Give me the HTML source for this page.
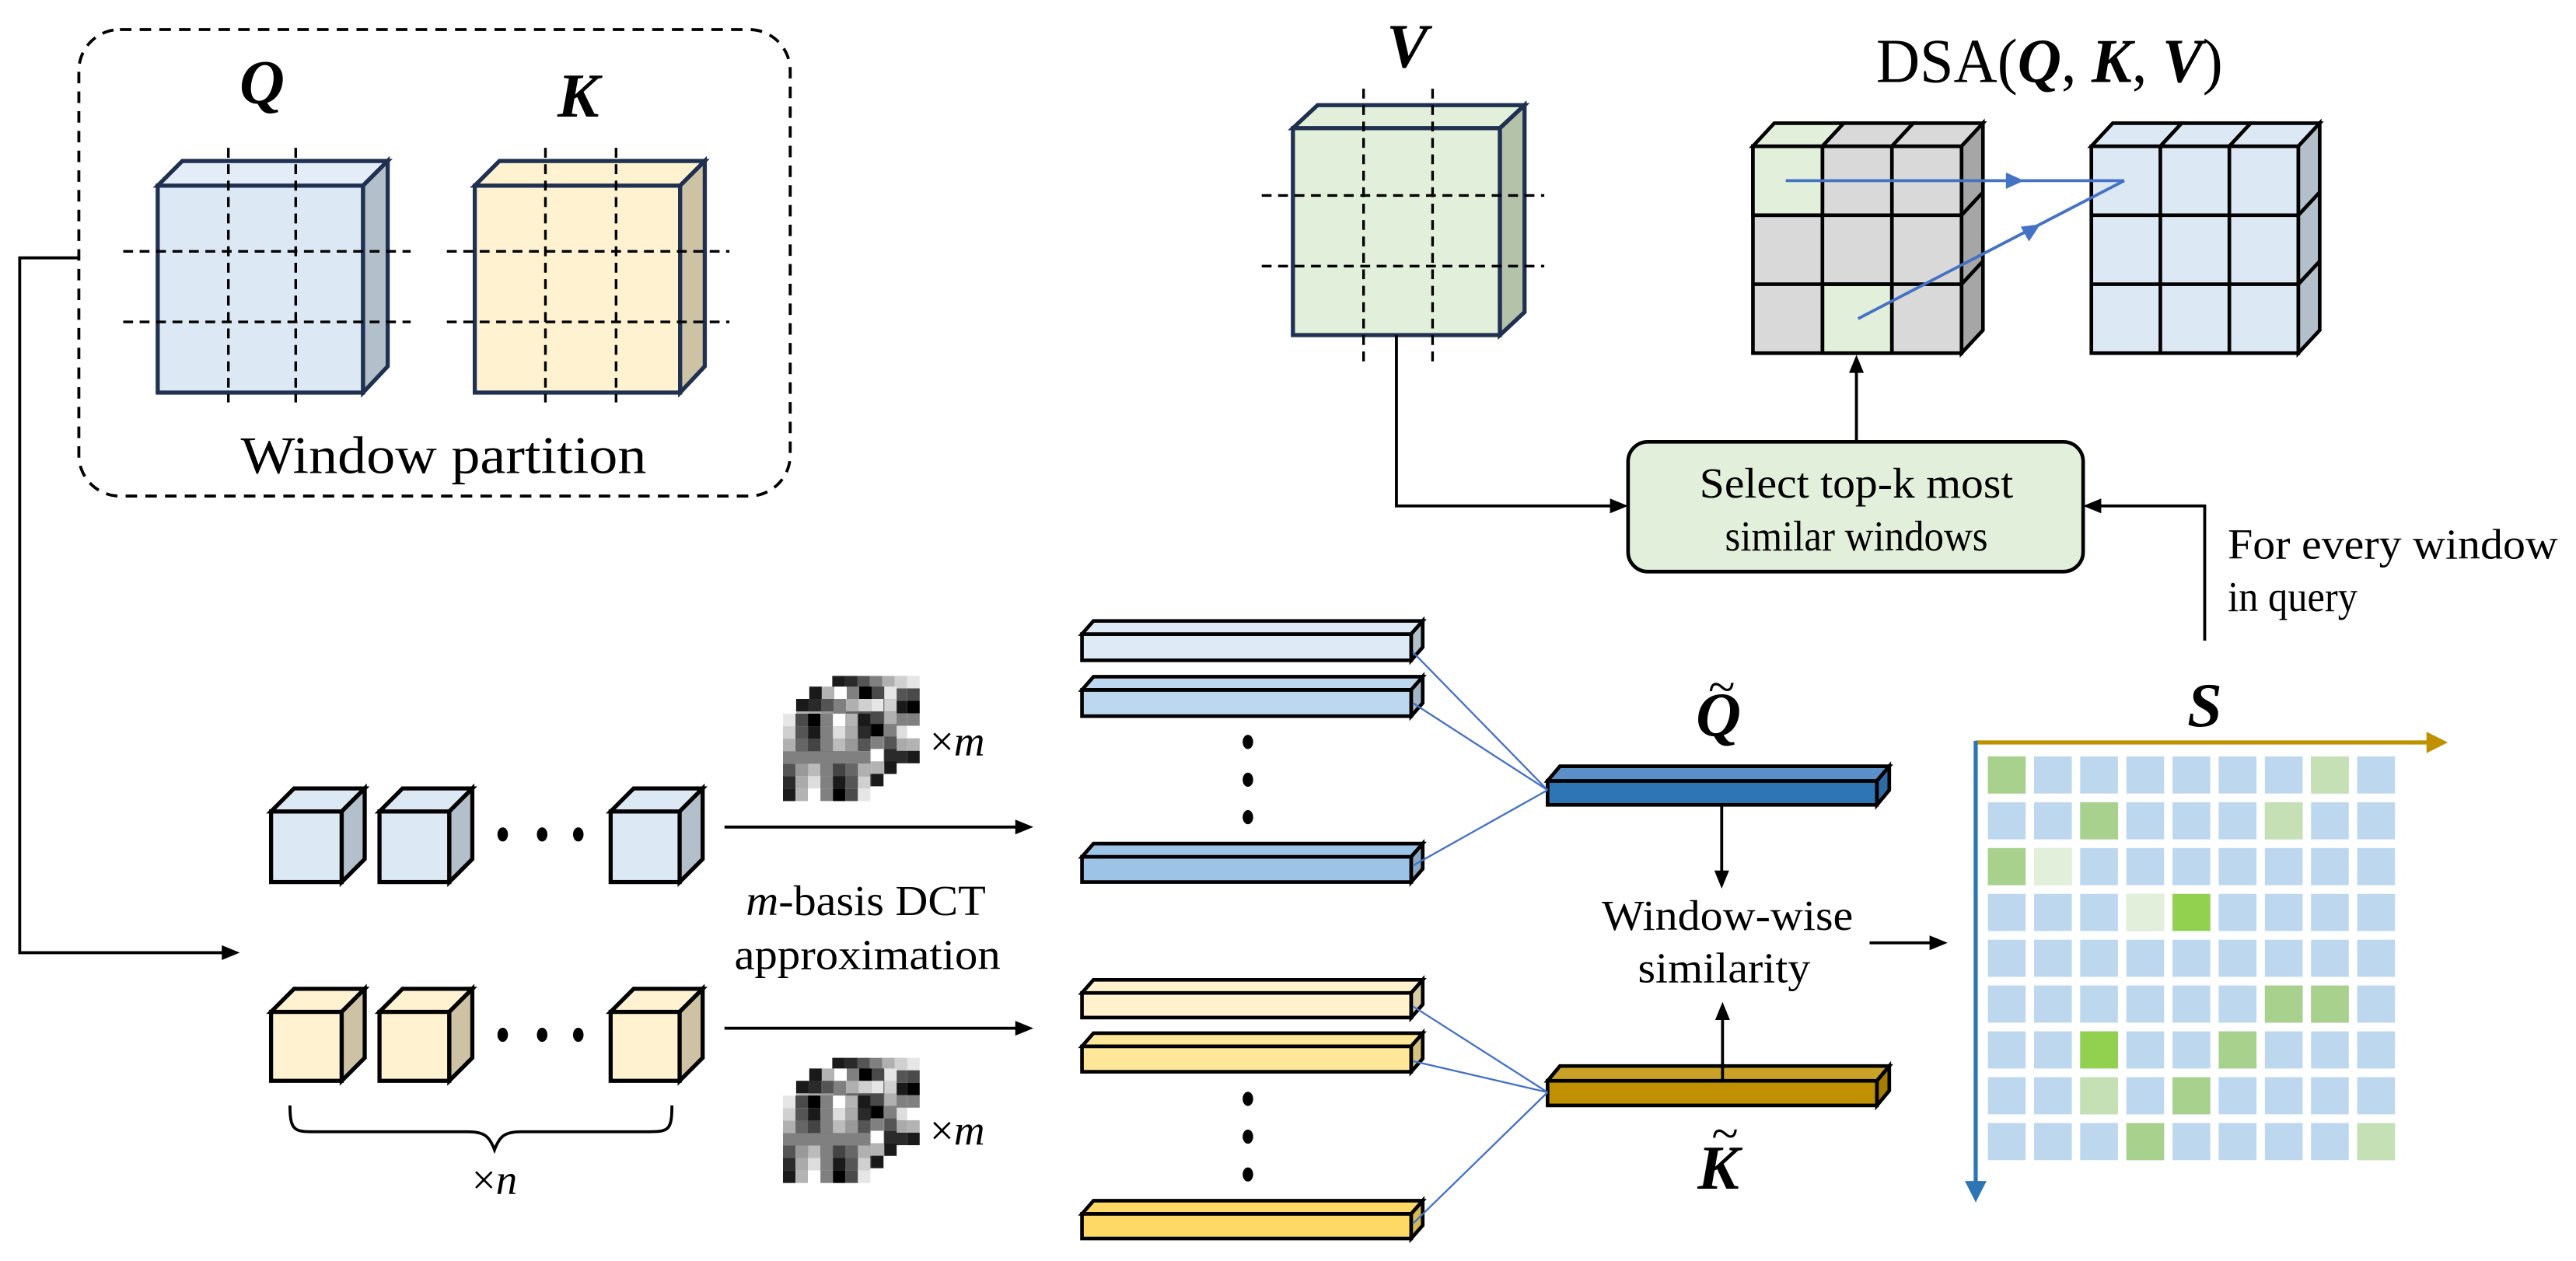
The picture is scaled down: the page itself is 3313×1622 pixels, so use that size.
<!DOCTYPE html>
<html><head><meta charset="utf-8"><style>html,body{margin:0;padding:0;background:#fff}svg{display:block}</style></head><body>
<svg width="3313" height="1622" viewBox="0 0 1568 767.7" preserveAspectRatio="none" xmlns="http://www.w3.org/2000/svg" font-family="'Liberation Serif', serif">
<defs>
<pattern id="cells" x="1210" y="460.5" width="28.1" height="27.9" patternUnits="userSpaceOnUse"><rect width="23" height="22.6" fill="#bdd7ee"/></pattern>
<g id="dct">
<rect x="0" y="0" width="7.6" height="7.6" fill="#e6e6e6"/><rect x="7.6" y="0" width="7.6" height="7.6" fill="#4a4a4a"/><rect x="15.2" y="0" width="7.6" height="7.6" fill="#000"/><rect x="22.8" y="0" width="7.6" height="7.6" fill="#808080"/><rect x="30.4" y="0" width="7.6" height="7.6" fill="#fff"/><rect x="38" y="0" width="7.6" height="7.6" fill="#b3b3b3"/><rect x="45.6" y="0" width="7.6" height="7.6" fill="#1a1a1a"/>
<rect x="0" y="7.6" width="7.6" height="7.6" fill="#d0d0d0"/><rect x="7.6" y="7.6" width="7.6" height="7.6" fill="#555"/><rect x="15.2" y="7.6" width="7.6" height="7.6" fill="#1a1a1a"/><rect x="22.8" y="7.6" width="7.6" height="7.6" fill="#808080"/><rect x="30.4" y="7.6" width="7.6" height="7.6" fill="#ddd"/><rect x="38" y="7.6" width="7.6" height="7.6" fill="#aaa"/><rect x="45.6" y="7.6" width="7.6" height="7.6" fill="#2a2a2a"/>
<rect x="0" y="15.2" width="7.6" height="7.6" fill="#b0b0b0"/><rect x="7.6" y="15.2" width="7.6" height="7.6" fill="#666"/><rect x="15.2" y="15.2" width="7.6" height="7.6" fill="#444"/><rect x="22.8" y="15.2" width="7.6" height="7.6" fill="#808080"/><rect x="30.4" y="15.2" width="7.6" height="7.6" fill="#bbb"/><rect x="38" y="15.2" width="7.6" height="7.6" fill="#999"/><rect x="45.6" y="15.2" width="7.6" height="7.6" fill="#555"/>
<rect x="0" y="22.8" width="53.2" height="7.6" fill="#808080"/>
<rect x="0" y="30.4" width="7.6" height="7.6" fill="#555"/><rect x="7.6" y="30.4" width="7.6" height="7.6" fill="#999"/><rect x="15.2" y="30.4" width="7.6" height="7.6" fill="#bbb"/><rect x="22.8" y="30.4" width="7.6" height="7.6" fill="#808080"/><rect x="30.4" y="30.4" width="7.6" height="7.6" fill="#444"/><rect x="38" y="30.4" width="7.6" height="7.6" fill="#666"/><rect x="45.6" y="30.4" width="7.6" height="7.6" fill="#b0b0b0"/>
<rect x="0" y="38" width="7.6" height="7.6" fill="#2a2a2a"/><rect x="7.6" y="38" width="7.6" height="7.6" fill="#aaa"/><rect x="15.2" y="38" width="7.6" height="7.6" fill="#ddd"/><rect x="22.8" y="38" width="7.6" height="7.6" fill="#808080"/><rect x="30.4" y="38" width="7.6" height="7.6" fill="#1a1a1a"/><rect x="38" y="38" width="7.6" height="7.6" fill="#555"/><rect x="45.6" y="38" width="7.6" height="7.6" fill="#d0d0d0"/>
<rect x="0" y="45.6" width="7.6" height="7.6" fill="#1a1a1a"/><rect x="7.6" y="45.6" width="7.6" height="7.6" fill="#b3b3b3"/><rect x="15.2" y="45.6" width="7.6" height="7.6" fill="#fff"/><rect x="22.8" y="45.6" width="7.6" height="7.6" fill="#808080"/><rect x="30.4" y="45.6" width="7.6" height="7.6" fill="#000"/><rect x="38" y="45.6" width="7.6" height="7.6" fill="#4a4a4a"/><rect x="45.6" y="45.6" width="7.6" height="7.6" fill="#e6e6e6"/>
</g>
<g id="dctstack">
<use href="#dct" transform="translate(30,-23) rotate(90 26.6 26.6)"/>
<use href="#dct" transform="translate(16,-16.5) scale(-1,1) translate(-53.2,0)"/>
<use href="#dct" transform="translate(8,-9) rotate(-90 26.6 26.6)"/>
<use href="#dct"/>
</g>
</defs>

<!-- dashed box -->
<rect x="48" y="18" width="433" height="284" rx="25" fill="none" stroke="#000" stroke-width="1.8" stroke-dasharray="7 5"/>
<text x="159.5" y="63" font-size="38" font-weight="bold" font-style="italic" text-anchor="middle">Q</text>
<text x="352" y="71" font-size="38" font-weight="bold" font-style="italic" text-anchor="middle">K</text>

<g stroke="#1f3050" stroke-width="2.5" stroke-linejoin="miter">
<rect x="96" y="113" width="125" height="126" fill="#dde8f5"/>
<polygon points="96,113 111,98 236,98 221,113" fill="#e3ecf7"/>
<polygon points="221,113 236,98 236,223 221,239" fill="#b3bfca"/>
<rect x="289" y="113" width="125" height="126" fill="#fff2d0"/>
<polygon points="289,113 304,98 429,98 414,113" fill="#fff2d0"/>
<polygon points="414,113 429,98 429,223 414,239" fill="#cdc2a4"/>
<rect x="787" y="78" width="126" height="126" fill="#e2efda"/>
<polygon points="787,78 802,64 928,64 913,78" fill="#e2efda"/>
<polygon points="913,78 928,64 928,190 913,204" fill="#b5c2aa"/>
</g>
<g stroke="#000" stroke-width="1.6" stroke-dasharray="6 4" fill="none">
<line x1="139" y1="90" x2="139" y2="245"/><line x1="180" y1="90" x2="180" y2="245"/>
<line x1="332" y1="90" x2="332" y2="245"/><line x1="375" y1="90" x2="375" y2="245"/>
<line x1="75" y1="153" x2="250" y2="153"/><line x1="75" y1="196" x2="250" y2="196"/>
<line x1="272" y1="153" x2="444" y2="153"/><line x1="272" y1="196" x2="444" y2="196"/>
<line x1="830" y1="54" x2="830" y2="222"/><line x1="872" y1="54" x2="872" y2="222"/>
<line x1="768" y1="119" x2="940" y2="119"/><line x1="768" y1="162" x2="940" y2="162"/>
</g>
<text x="270" y="288" font-size="32" text-anchor="middle" textLength="247" lengthAdjust="spacingAndGlyphs">Window partition</text>

<!-- left connector -->
<polyline points="48,157 12,157 12,580 136,580" fill="none" stroke="#000" stroke-width="1.8"/>
<polygon points="146,580 135,575.5 135,584.5" fill="#000"/>

<!-- V and DSA -->
<text x="856.6" y="41" font-size="38" font-weight="bold" font-style="italic" text-anchor="middle">V</text>
<text x="1142" y="50" font-size="38" textLength="211" lengthAdjust="spacingAndGlyphs">DSA(<tspan font-weight="bold" font-style="italic">Q</tspan>, <tspan font-weight="bold" font-style="italic">K</tspan>, <tspan font-weight="bold" font-style="italic">V</tspan>)</text>

<!-- gray cube -->
<g stroke="#000" stroke-width="2.2">
<rect x="1067" y="89" width="127" height="126" fill="#d9d9d9"/>
<rect x="1067" y="89" width="42.3" height="42" fill="#e2efda"/>
<rect x="1109.3" y="173" width="42.3" height="42" fill="#e2efda"/>
<line x1="1109.3" y1="89" x2="1109.3" y2="215"/><line x1="1151.6" y1="89" x2="1151.6" y2="215"/>
<line x1="1067" y1="131" x2="1194" y2="131"/><line x1="1067" y1="173" x2="1194" y2="173"/>
<polygon points="1067,89 1080,75 1122.3,75 1109.3,89" fill="#e2efda"/>
<polygon points="1109.3,89 1122.3,75 1164.6,75 1151.6,89" fill="#d9d9d9"/>
<polygon points="1151.6,89 1164.6,75 1207,75 1194,89" fill="#d9d9d9"/>
<polygon points="1194,89 1207,75 1207,201 1194,215" fill="#a6a6a6"/>
<line x1="1194" y1="131" x2="1207" y2="117"/><line x1="1194" y1="173" x2="1207" y2="159"/>
</g>
<!-- blue result cube -->
<g stroke="#000" stroke-width="2.2">
<rect x="1273" y="89" width="126" height="126" fill="#dde8f5"/>
<line x1="1315" y1="89" x2="1315" y2="215"/><line x1="1357" y1="89" x2="1357" y2="215"/>
<line x1="1273" y1="131" x2="1399" y2="131"/><line x1="1273" y1="173" x2="1399" y2="173"/>
<polygon points="1273,89 1286,75 1328,75 1315,89" fill="#dde8f5"/>
<polygon points="1315,89 1328,75 1370,75 1357,89" fill="#dde8f5"/>
<polygon points="1357,89 1370,75 1412,75 1399,89" fill="#dde8f5"/>
<polygon points="1399,89 1412,75 1412,201 1399,215" fill="#b3bfca"/>
<line x1="1399" y1="131" x2="1412" y2="117"/><line x1="1399" y1="173" x2="1412" y2="159"/>
</g>
<!-- blue arrows -->
<g stroke="#4472c4" stroke-width="1.8" fill="none">
<line x1="1087" y1="110" x2="1293" y2="110"/>
<line x1="1131" y1="194" x2="1293" y2="110"/>
</g>
<polygon points="1232,110 1221,105 1221,115" fill="#4472c4"/>
<polygon points="1242,136.5 1230,138 1235,147" fill="#4472c4"/>

<!-- select box -->
<rect x="991" y="269" width="277" height="79" rx="12" fill="#e2efda" stroke="#000" stroke-width="2.2"/>
<text x="1130" y="303" font-size="26" text-anchor="middle" textLength="191" lengthAdjust="spacingAndGlyphs">Select top-k most</text>
<text x="1130" y="335" font-size="26" text-anchor="middle" textLength="160" lengthAdjust="spacingAndGlyphs">similar windows</text>
<g stroke="#000" stroke-width="1.8" fill="none">
<line x1="1130" y1="269" x2="1130" y2="226"/>
<polyline points="850,204 850,308 981,308"/>
<polyline points="1342,390 1342,308 1278,308"/>
</g>
<polygon points="1130,216 1125.5,227 1134.5,227" fill="#000"/>
<polygon points="991,308 980,303.5 980,312.5" fill="#000"/>
<polygon points="1268,308 1279,303.5 1279,312.5" fill="#000"/>
<text x="1356" y="340" font-size="26" textLength="201" lengthAdjust="spacingAndGlyphs">For every window</text>
<text x="1356" y="372" font-size="26" textLength="79" lengthAdjust="spacingAndGlyphs">in query</text>

<!-- S matrix -->
<text x="1342" y="442" font-size="38" font-weight="bold" font-style="italic" text-anchor="middle">S</text>
<rect x="1210" y="460.5" width="252.9" height="251.1" fill="url(#cells)"/>
<g>
<rect x="1210" y="460.5" width="23" height="22.6" fill="#a9d18e"/>
<rect x="1406.7" y="460.5" width="23" height="22.6" fill="#c5e0b4"/>
<rect x="1266.2" y="488.4" width="23" height="22.6" fill="#a9d18e"/>
<rect x="1378.6" y="488.4" width="23" height="22.6" fill="#c5e0b4"/>
<rect x="1210" y="516.3" width="23" height="22.6" fill="#a9d18e"/>
<rect x="1238.1" y="516.3" width="23" height="22.6" fill="#e2efda"/>
<rect x="1294.3" y="544.2" width="23" height="22.6" fill="#e2efda"/>
<rect x="1322.4" y="544.2" width="23" height="22.6" fill="#92d050"/>
<rect x="1378.6" y="600" width="23" height="22.6" fill="#a9d18e"/>
<rect x="1406.7" y="600" width="23" height="22.6" fill="#a9d18e"/>
<rect x="1266.2" y="627.9" width="23" height="22.6" fill="#92d050"/>
<rect x="1350.5" y="627.9" width="23" height="22.6" fill="#a9d18e"/>
<rect x="1266.2" y="655.8" width="23" height="22.6" fill="#c5e0b4"/>
<rect x="1322.4" y="655.8" width="23" height="22.6" fill="#a9d18e"/>
<rect x="1294.3" y="683.7" width="23" height="22.6" fill="#a9d18e"/>
<rect x="1434.8" y="683.7" width="23" height="22.6" fill="#c5e0b4"/>
</g>
<line x1="1202.6" y1="452" x2="1478" y2="452" stroke="#bf9000" stroke-width="2.5"/>
<polygon points="1490,452 1477,445.5 1477,458.5" fill="#bf9000"/>
<line x1="1202.6" y1="451" x2="1202.6" y2="720" stroke="#2e75b6" stroke-width="2.5"/>
<polygon points="1202.6,732 1196,719 1209.2,719" fill="#2e75b6"/>

<!-- small cubes -->
<g stroke="#000" stroke-width="2.5">
<rect x="165" y="494" width="43" height="43" fill="#dde8f5"/><polygon points="165,494 179,480 222,480 208,494" fill="#dde8f5"/><polygon points="208,494 222,480 222,523 208,537" fill="#b3bfca"/>
<rect x="231" y="494" width="42.5" height="43" fill="#dde8f5"/><polygon points="231,494 245,480 287.5,480 273.5,494" fill="#dde8f5"/><polygon points="273.5,494 287.5,480 287.5,523 273.5,537" fill="#b3bfca"/>
<rect x="371.7" y="494" width="42" height="43" fill="#dde8f5"/><polygon points="371.7,494 385.7,480 427.7,480 413.7,494" fill="#dde8f5"/><polygon points="413.7,494 427.7,480 427.7,523 413.7,537" fill="#b3bfca"/>
<rect x="165" y="616" width="43" height="42" fill="#fff2d0"/><polygon points="165,616 179,602 222,602 208,616" fill="#fff2d0"/><polygon points="208,616 222,602 222,644 208,658" fill="#cdc2a4"/>
<rect x="231" y="616" width="42.5" height="42" fill="#fff2d0"/><polygon points="231,616 245,602 287.5,602 273.5,616" fill="#fff2d0"/><polygon points="273.5,616 287.5,602 287.5,644 273.5,658" fill="#cdc2a4"/>
<rect x="371.7" y="616" width="42" height="42" fill="#fff2d0"/><polygon points="371.7,616 385.7,602 427.7,602 413.7,616" fill="#fff2d0"/><polygon points="413.7,616 427.7,602 427.7,644 413.7,658" fill="#cdc2a4"/>
</g>
<g fill="#000">
<ellipse cx="306" cy="508" rx="3.2" ry="4.3"/><ellipse cx="330" cy="508" rx="3.2" ry="4.3"/><ellipse cx="352" cy="508" rx="3.2" ry="4.3"/>
<ellipse cx="306" cy="630" rx="3.2" ry="4.3"/><ellipse cx="330" cy="630" rx="3.2" ry="4.3"/><ellipse cx="352" cy="630" rx="3.2" ry="4.3"/>
</g>
<path d="M176.5,673 C176.5,690 180,689 195,689 L285,689 C295,689 298,692 301,700 C304,692 307,689 317,689 L395,689 C407,689 409,688 409,673" fill="none" stroke="#000" stroke-width="1.8"/>
<text x="301" y="727" font-size="26" text-anchor="middle">×<tspan font-style="italic">n</tspan></text>

<!-- arrows to bars -->
<g stroke="#000" stroke-width="1.8">
<line x1="441" y1="503.5" x2="619" y2="503.5"/><line x1="441" y1="626" x2="619" y2="626"/>
</g>
<polygon points="629,503.5 618,499 618,508" fill="#000"/>
<polygon points="629,626 618,621.5 618,630.5" fill="#000"/>
<text x="527" y="557" font-size="26" text-anchor="middle" textLength="146" lengthAdjust="spacingAndGlyphs"><tspan font-style="italic">m</tspan>-basis DCT</text>
<text x="528" y="590" font-size="26" text-anchor="middle" textLength="162" lengthAdjust="spacingAndGlyphs">approximation</text>

<!-- DCT images -->
<use href="#dctstack" transform="translate(476.6,434.5)"/>
<use href="#dctstack" transform="translate(476.6,667)"/>
<text x="566" y="460" font-size="26">×<tspan font-style="italic">m</tspan></text>
<text x="566" y="697" font-size="26">×<tspan font-style="italic">m</tspan></text>

<!-- bars -->
<g stroke="#000" stroke-width="2.2">
<rect x="658.6" y="386" width="200.4" height="16" fill="#deebf7"/><polygon points="658.6,386 665.6,378 866,378 859,386" fill="#deebf7"/><polygon points="859,386 866,378 866,394 859,402" fill="#b3bfca"/>
<rect x="658.6" y="420" width="200.4" height="16" fill="#bdd7ee"/><polygon points="658.6,420 665.6,412 866,412 859,420" fill="#bdd7ee"/><polygon points="859,420 866,412 866,428 859,436" fill="#a3b5c6"/>
<rect x="658.6" y="521.6" width="200.4" height="15.4" fill="#9dc3e6"/><polygon points="658.6,521.6 665.6,513.6 866,513.6 859,521.6" fill="#9dc3e6"/><polygon points="859,521.6 866,513.6 866,529 859,537" fill="#8aa8c4"/>
<rect x="658.6" y="604.5" width="200.4" height="15" fill="#fff2cc"/><polygon points="658.6,604.5 665.6,596.5 866,596.5 859,604.5" fill="#fff2cc"/><polygon points="859,604.5 866,596.5 866,611.5 859,619.5" fill="#d8cfa8"/>
<rect x="658.6" y="637" width="200.4" height="15.5" fill="#ffe699"/><polygon points="658.6,637 665.6,629 866,629 859,637" fill="#ffe699"/><polygon points="859,637 866,629 866,644.5 859,652.5" fill="#d6c27f"/>
<rect x="658.6" y="739" width="200.4" height="15" fill="#ffd966"/><polygon points="658.6,739 665.6,731 866,731 859,739" fill="#ffd966"/><polygon points="859,739 866,731 866,746 859,754" fill="#d6b955"/>
<rect x="942" y="475.4" width="200.5" height="14.6" fill="#2e75b6"/><polygon points="942,475.4 949.5,466.5 1150,466.5 1142.5,475.4" fill="#5b8fc7"/><polygon points="1142.5,475.4 1150,466.5 1150,481 1142.5,490" fill="#2e6aa3"/>
<rect x="942" y="658" width="200.5" height="15" fill="#bf9000"/><polygon points="942,658 949.5,649 1150,649 1142.5,658" fill="#c9a227"/><polygon points="1142.5,658 1150,649 1150,664 1142.5,673" fill="#a67d00"/>
</g>
<g fill="#000">
<ellipse cx="759.6" cy="451.7" rx="3.2" ry="4.3"/><ellipse cx="759.6" cy="474.7" rx="3.2" ry="4.3"/><ellipse cx="759.6" cy="497.5" rx="3.2" ry="4.3"/>
<ellipse cx="759.6" cy="669" rx="3.2" ry="4.3"/><ellipse cx="759.6" cy="692" rx="3.2" ry="4.3"/><ellipse cx="759.6" cy="715" rx="3.2" ry="4.3"/>
</g>
<g stroke="#4472c4" stroke-width="1.1">
<line x1="860" y1="397" x2="942" y2="481"/><line x1="860" y1="428" x2="942" y2="481"/><line x1="860" y1="527" x2="942" y2="481"/>
<line x1="860" y1="612.6" x2="942" y2="665"/><line x1="860" y1="646" x2="942" y2="665"/><line x1="860" y1="745" x2="942" y2="665"/>
</g>

<!-- Q~ K~ -->
<text x="1046" y="448" font-size="38" font-weight="bold" font-style="italic" text-anchor="middle">Q</text>
<text x="1048" y="428" font-size="30" text-anchor="middle">~</text>
<text x="1046" y="723.6" font-size="38" font-weight="bold" font-style="italic" text-anchor="middle">K</text>
<text x="1050" y="700" font-size="30" text-anchor="middle">~</text>

<g stroke="#000" stroke-width="1.8">
<line x1="1048" y1="490" x2="1048" y2="531"/>
<line x1="1048.5" y1="658" x2="1048.5" y2="620"/>
<line x1="1138" y1="574" x2="1175" y2="574"/>
</g>
<polygon points="1048,541 1043.5,530 1052.5,530" fill="#000"/>
<polygon points="1048.5,610 1044,621 1053,621" fill="#000"/>
<polygon points="1185.5,574 1174.5,569.5 1174.5,578.5" fill="#000"/>
<text x="1051.5" y="566" font-size="26" text-anchor="middle" textLength="153" lengthAdjust="spacingAndGlyphs">Window-wise</text>
<text x="1049.5" y="598" font-size="26" text-anchor="middle" textLength="105" lengthAdjust="spacingAndGlyphs">similarity</text>
</svg>
</body></html>
